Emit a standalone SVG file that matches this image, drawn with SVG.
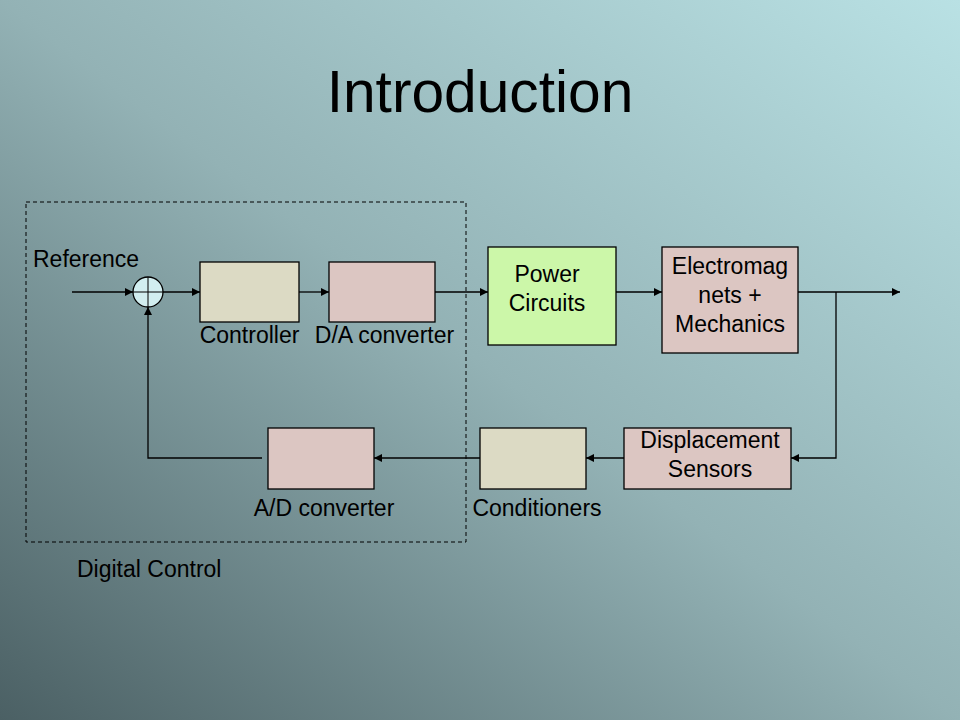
<svg xmlns="http://www.w3.org/2000/svg" width="960" height="720" viewBox="0 0 960 720">
<defs>
<linearGradient id="bg" x1="0" y1="1" x2="1" y2="0">
<stop offset="0" stop-color="#4b6064"/>
<stop offset="0.5" stop-color="#93b2b5"/>
<stop offset="1" stop-color="#b9e1e4"/>
</linearGradient>
<marker id="arr" viewBox="0 0 10 10" refX="10" refY="5" markerWidth="9" markerHeight="8" orient="auto" markerUnits="userSpaceOnUse">
<path d="M0,0 L10,5 L0,10 z" fill="#000"/>
</marker>
<style>
text{font-family:"Liberation Sans",Arial,sans-serif;fill:#000;}
.lbl{font-size:23px;}
.mid{text-anchor:middle;}
.box{stroke:#000;stroke-width:1.3;}
.beige{fill:#dcdac4;}
.pink{fill:#dcc6c2;}
.green{fill:#ccf7a9;}
.wire{fill:none;stroke:#000;stroke-width:1.3;}
.arrow{marker-end:url(#arr);}
</style>
</defs>
<rect x="0" y="0" width="960" height="720" fill="url(#bg)"/>
<text x="480" y="112" class="mid" style="font-size:58.7px">Introduction</text>

<g id="digital-control">
<rect x="26" y="202" width="440" height="340" fill="none" stroke="#000" stroke-width="1" stroke-dasharray="4,3"/>
<text x="77" y="577" class="lbl">Digital Control</text>
</g>

<g id="connectors">
<line x1="72" y1="292" x2="133" y2="292" class="wire arrow"/>
<line x1="163" y1="292" x2="200" y2="292" class="wire arrow"/>
<line x1="299" y1="292" x2="329" y2="292" class="wire arrow"/>
<line x1="435" y1="292" x2="488" y2="292" class="wire arrow"/>
<line x1="616" y1="292" x2="662" y2="292" class="wire arrow"/>
<line x1="798" y1="292" x2="900" y2="292" class="wire arrow"/>
<polyline points="836,292 836,458 791,458" class="wire arrow"/>
<line x1="624" y1="458" x2="586" y2="458" class="wire arrow"/>
<line x1="480" y1="458" x2="374" y2="458" class="wire arrow"/>
<polyline points="262,458 148,458 148,307" class="wire arrow"/>
</g>

<g id="reference">
<text x="33" y="267" class="lbl">Reference</text>
</g>

<g id="sum">
<circle cx="148" cy="292" r="15" fill="#d2eef0" stroke="#000" stroke-width="1.3"/>
<line x1="133" y1="292" x2="163" y2="292" stroke="#000" stroke-width="1"/>
<line x1="148" y1="277" x2="148" y2="307" stroke="#000" stroke-width="1"/>
</g>

<g id="controller">
<rect x="200" y="262" width="99" height="60" class="box beige"/>
<text x="249.5" y="343" class="lbl mid">Controller</text>
</g>

<g id="da-converter">
<rect x="329" y="262" width="106" height="60" class="box pink"/>
<text x="384.5" y="343" class="lbl mid">D/A converter</text>
</g>

<g id="power-circuits">
<rect x="488" y="247" width="128" height="98" class="box green"/>
<text x="547" y="282" class="lbl mid">Power</text>
<text x="547" y="311" class="lbl mid">Circuits</text>
</g>

<g id="electromagnets">
<rect x="662" y="247" width="136" height="106" class="box pink"/>
<text x="730" y="274" class="lbl mid">Electromag</text>
<text x="730" y="303" class="lbl mid">nets +</text>
<text x="730" y="332" class="lbl mid">Mechanics</text>
</g>

<g id="displacement-sensors">
<rect x="624" y="428" width="167" height="61" class="box pink"/>
<text x="710" y="448" class="lbl mid">Displacement</text>
<text x="710" y="477" class="lbl mid">Sensors</text>
</g>

<g id="conditioners">
<rect x="480" y="428" width="106" height="61" class="box beige"/>
<text x="537" y="516" class="lbl mid">Conditioners</text>
</g>

<g id="ad-converter">
<rect x="268" y="428" width="106" height="61" class="box pink"/>
<text x="324" y="516" class="lbl mid">A/D converter</text>
</g>
</svg>
